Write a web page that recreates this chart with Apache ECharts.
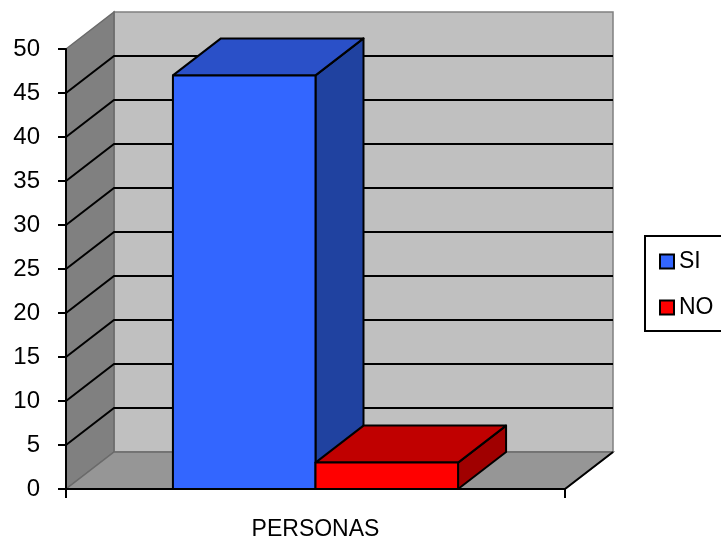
<!DOCTYPE html>
<html>
<head>
<meta charset="utf-8">
<script src="https://cdn.jsdelivr.net/npm/echarts@6/dist/echarts.min.js"></script>
<style>
  html, body { margin: 0; padding: 0; background: #fff; }
  #chart { width: 721px; height: 543px; }
</style>
</head>
<body>
<div id="chart"></div>
<script>
// datos
var categories = ['PERSONAS'];
var seriesNames = ['SI', 'NO'];
var siValues = [47];
var noValues = [3];
var yTicks = [0, 5, 10, 15, 20, 25, 30, 35, 40, 45, 50];

// profundidad del efecto 3D (px)
var DX = 48, DY = 37;
var FONT = "'Liberation Sans', Arial, sans-serif";

var chart = echarts.init(document.getElementById('chart'), null, {renderer: 'canvas'});

function renderWalls(params, api) {
    var cs = params.coordSys;
    var xl = cs.x, xr = cs.x + cs.width;
    var y0 = api.coord([0, yTicks[0]])[1];
    var yT = api.coord([0, yTicks[yTicks.length - 1]])[1];
    var kids = [];
    // pared del fondo
    kids.push({type: 'polygon', shape: {points: [[xl + DX, yT - DY], [xr + DX, yT - DY], [xr + DX, y0 - DY], [xl + DX, y0 - DY]]},
        style: {fill: '#c0c0c0', stroke: '#808080', lineWidth: 1.5}});
    // pared lateral
    kids.push({type: 'polygon', shape: {points: [[xl, yT], [xl + DX, yT - DY], [xl + DX, y0 - DY], [xl, y0]]},
        style: {fill: '#808080', stroke: '#6a6a6a', lineWidth: 1.5}});
    // piso
    kids.push({type: 'polygon', shape: {points: [[xl, y0], [xr, y0], [xr + DX, y0 - DY], [xl + DX, y0 - DY]]},
        style: {fill: '#969696', stroke: '#6a6a6a', lineWidth: 1.5}});
    for (var i = 1; i < yTicks.length - 1; i++) {
        var y = api.coord([0, yTicks[i]])[1];
        kids.push({type: 'polyline', shape: {points: [[xl, y], [xl + DX, y - DY], [xr + DX, y - DY]]},
            style: {stroke: '#000', lineWidth: 2, fill: null}});
    }
    kids.push({type: 'line', shape: {x1: xr, y1: y0, x2: xr + DX, y2: y0 - DY},
        style: {stroke: '#000', lineWidth: 2}});
    return {type: 'group', children: kids};
}

function makeBar(slot, front, top, side) {
    return function (params, api) {
        var base = api.coord([api.value(0), 0]);
        var tp = api.coord([api.value(0), api.value(1)]);
        var bw = api.size([1, 0])[0] / 3.5;   // ancho de separacion 150%
        var x0 = base[0] - bw + slot * bw, x1 = x0 + bw;
        var yb = base[1], yt = tp[1];
        var edge = {stroke: '#000', lineWidth: 2, lineJoin: 'round'};
        return {type: 'group', children: [
            {type: 'polygon', shape: {points: [[x1, yt], [x1 + DX, yt - DY], [x1 + DX, yb - DY], [x1, yb]]},
                style: Object.assign({fill: side}, edge)},
            {type: 'polygon', shape: {points: [[x0, yt], [x0 + DX, yt - DY], [x1 + DX, yt - DY], [x1, yt]]},
                style: Object.assign({fill: top}, edge)},
            {type: 'rect', shape: {x: x0, y: yt, width: bw, height: yb - yt},
                style: Object.assign({fill: front}, edge)}
        ]};
    };
}

var option = {
    animation: false,
    grid: {left: 66, right: 156, top: 49, bottom: 54, containLabel: false},
    legend: {
        orient: 'vertical',
        left: 645, top: 236,
        data: seriesNames,
        icon: 'rect',
        itemWidth: 14, itemHeight: 14,
        itemGap: 23,
        padding: [14, 34, 12, 14],
        borderColor: '#000', borderWidth: 2,
        itemStyle: {borderColor: '#000', borderWidth: 2},
        textStyle: {fontFamily: FONT, fontSize: 23, color: '#000'},
        selectedMode: false
    },
    xAxis: {
        type: 'category', data: categories, z: 10,
        axisLine: {lineStyle: {color: '#000', width: 2}},
        axisTick: {show: true, length: 9, lineStyle: {color: '#000', width: 2}},
        axisLabel: {fontFamily: FONT, fontSize: 23, color: '#000', margin: 29},
        splitLine: {show: false}
    },
    yAxis: {
        type: 'value', min: 0, max: 50, interval: 5, z: 10,
        axisLine: {show: true, lineStyle: {color: '#000', width: 2}},
        axisTick: {show: true, length: 8, lineStyle: {color: '#000', width: 2}},
        axisLabel: {fontFamily: FONT, fontSize: 24, color: '#000', margin: 26},
        splitLine: {show: false}
    },
    series: [
        {type: 'custom', name: 'walls', z: 1, clip: false, silent: true,
            renderItem: renderWalls, data: [[0, 0]]},
        {type: 'custom', name: 'SI', z: 3, clip: false,
            itemStyle: {color: '#3366ff'},
            renderItem: makeBar(0, '#3366ff', '#2a50c8', '#2042a0'),
            data: siValues.map(function (v, i) { return [i, v]; })},
        {type: 'custom', name: 'NO', z: 3, clip: false,
            itemStyle: {color: '#ff0000'},
            renderItem: makeBar(1, '#ff0000', '#c00000', '#a00000'),
            data: noValues.map(function (v, i) { return [i, v]; })}
    ]
};
chart.setOption(option);
</script>
</body>
</html>
